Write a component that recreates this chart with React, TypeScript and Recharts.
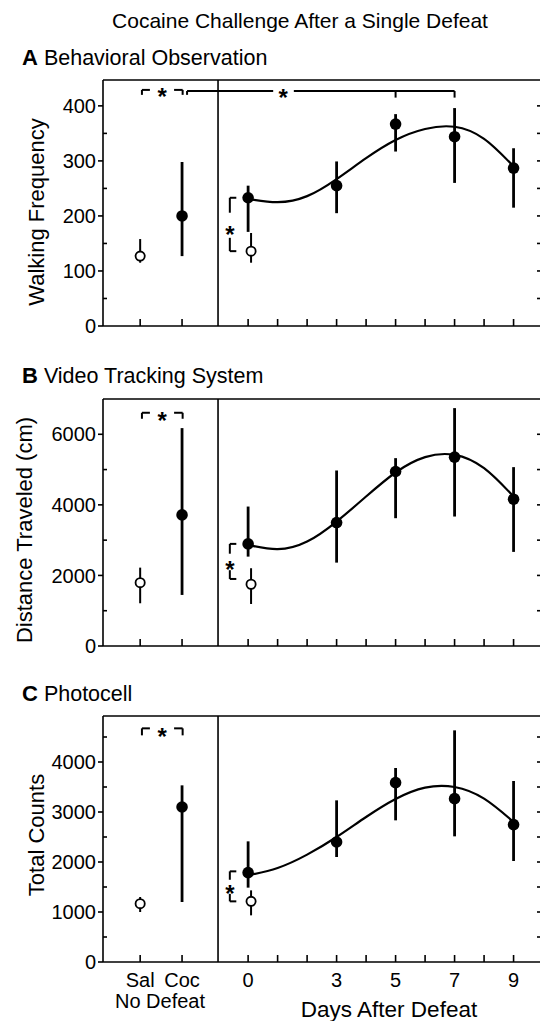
import React from "react";
import {
  ComposedChart,
  Line,
  Scatter,
  XAxis,
  YAxis,
  ErrorBar,
  ReferenceLine,
  ReferenceDot,
} from "recharts";

// x positions: days after defeat; the no-defeat groups sit left of the divider
const groupLabels = ["Sal", "Coc"];
const groupX = [-3.66, -2.24];
const defeatDays = [0, 3, 5, 7, 9];
const fitDays = [0, 1, 2, 3, 4, 5, 6, 7, 8, 9];
const salineDay0X = 0.1;
const dividerX = -1.02;
const xDomain = [-4.92, 9.93];

// A: walking frequency, [mean, low, high]
const walkSal = [127, 115, 158];
const walkCoc = [200, 127, 298];
const walkSalDay0 = [136, 115, 169];
const walkDefeat = [233, 255, 367, 344, 287];
const walkDefeatLow = [171, 205, 317, 260, 215];
const walkDefeatHigh = [255, 299, 385, 396, 323];
const walkFit = [231, 225, 236, 267, 305, 338, 358, 362, 340, 290];

// B: distance traveled (cm)
const distSal = [1796, 1211, 2221];
const distCoc = [3716, 1447, 6175];
const distSalDay0 = [1750, 1191, 2204];
const distDefeat = [2894, 3498, 4945, 5352, 4161];
const distDefeatLow = [2533, 2363, 3622, 3669, 2667];
const distDefeatHigh = [3952, 4974, 5324, 6742, 5069];
const distFit = [2865, 2743, 2960, 3527, 4236, 4917, 5352, 5418, 5040, 4236];

// C: photocell total counts
const countSal = [1167, 1000, 1300];
const countCoc = [3100, 1200, 3533];
const countSalDay0 = [1213, 933, 1433];
const countDefeat = [1787, 2400, 3587, 3267, 2747];
const countDefeatLow = [1487, 2100, 2833, 2513, 2020];
const countDefeatHigh = [2413, 3233, 3880, 4633, 3620];
const countFit = [1733, 1880, 2147, 2500, 2900, 3260, 3487, 3500, 3267, 2800];

const FONT = '"Liberation Sans", Arial, Helvetica, sans-serif';
const AX = { stroke: "#000", strokeWidth: 1.6 };
const CHART_W = 545;
const PLOT_LEFT = 103;
const PLOT_W = CHART_W - 4 - PLOT_LEFT;

const pt = (x: number, [m, lo, hi]: number[]) => ({ x, y: m, err: [m - lo, hi - m] });

const openShape = (p: any) => (
  <circle cx={p.cx} cy={p.cy} r={4.6} fill="#fff" stroke="#000" strokeWidth={1.8} />
);
const filledShape = (p: any) => <circle cx={p.cx} cy={p.cy} r={5.8} fill="#000" />;
const star = (p: any) => (
  <text x={p.cx} y={p.cy + 13} textAnchor="middle" fontSize={24} fontWeight="bold" fontFamily={FONT}>
    *
  </text>
);

type Seg = [number, number, number, number];
type Bracket = { segs: Seg[]; star: [number, number] };

// bracket over the two no-defeat groups with a star in the gap
const groupBracket = (y: number, yEnd: number): Bracket => {
  const x1 = groupX[0] + 0.06;
  const x2 = groupX[1] + 0.02;
  const sx = (x1 + x2) / 2;
  return {
    segs: [
      [x1, yEnd, x1, y],
      [x1, y, sx - 0.42, y],
      [sx + 0.4, y, x2, y],
      [x2, y, x2, yEnd],
    ],
    star: [sx, (y + yEnd) / 2],
  };
};

// bracket between filled and open day-0 points
const day0Bracket = (top: number, bottom: number): Bracket => {
  const xv = -0.62;
  const xh = -0.4;
  const span = top - bottom;
  return {
    segs: [
      [xh, top, xv, top],
      [xv, top, xv, top - span * 0.28],
      [xv, bottom + span * 0.25, xv, bottom],
      [xv, bottom, xh, bottom],
    ],
    star: [xv, top - span * 0.6],
  };
};

// long bracket in panel A: Coc vs days 5 and 7
const longBracket: Bracket = {
  segs: [
    [groupX[1] + 0.17, 420, groupX[1] + 0.17, 427],
    [groupX[1] + 0.17, 427, 0.85, 427],
    [1.55, 427, defeatDays[3], 427],
    [defeatDays[2], 427, defeatDays[2], 415],
    [defeatDays[3], 427, defeatDays[3], 415],
  ],
  star: [1.19, 423],
};

const xTicks = [...groupX, ...fitDays];

// inward tick on the x axis, label only where the reference has one
const XTick = ({ x, y, payload, showLabels }: any) => {
  const v = payload.value;
  const gi = groupX.indexOf(v);
  const label = gi >= 0 ? groupLabels[gi] : defeatDays.includes(v) ? String(v) : null;
  return (
    <g>
      <line x1={x} x2={x} y1={y} y2={y - 7} stroke="#000" strokeWidth={1.6} />
      {showLabels && label && (
        <text x={x} y={y + 25} textAnchor="middle" fontSize={20} fontFamily={FONT} fill="#000">
          {label}
        </text>
      )}
    </g>
  );
};

// left major ticks out + label, left minor ticks in, right ticks in
const YTick = ({ x, y, payload, major, minor, right }: any) => {
  const v = payload.value;
  const rx = x + PLOT_W;
  return (
    <g>
      {major.includes(v) && (
        <>
          <line x1={x - 5} x2={x} y1={y} y2={y} stroke="#000" strokeWidth={1.6} />
          <text x={x - 7} y={y} dy="0.36em" textAnchor="end" fontSize={20} fontFamily={FONT} fill="#000">
            {v}
          </text>
        </>
      )}
      {minor.includes(v) && <line x1={x} x2={x + 4} y1={y} y2={y} stroke="#000" strokeWidth={1.6} />}
      {right.includes(v) && <line x1={rx - 4} x2={rx} y1={y} y2={y} stroke="#000" strokeWidth={1.6} />}
    </g>
  );
};

interface PanelProps {
  top: number;
  height: number;
  yMax: number;
  major: number[];
  minor: number[];
  right: number[];
  sal: number[];
  coc: number[];
  salDay0: number[];
  defeat: number[];
  low: number[];
  high: number[];
  fit: number[];
  brackets: Bracket[];
  showLabels?: boolean;
}

const Panel = (p: PanelProps) => {
  const openData = [pt(groupX[0], p.sal), pt(salineDay0X, p.salDay0)];
  const filledData = [
    pt(groupX[1], p.coc),
    ...defeatDays.map((d, i) => pt(d, [p.defeat[i], p.low[i], p.high[i]])),
  ];
  const fitData = fitDays.map((d, i) => ({ x: d, y: p.fit[i] }));
  const yTicks = Array.from(new Set([...p.major, ...p.minor, ...p.right])).sort((a, b) => a - b);
  return (
    <div style={{ position: "absolute", left: 0, top: p.top }}>
      <ComposedChart width={CHART_W} height={p.height} margin={{ top: 10, right: 4, bottom: 0, left: 0 }}>
        <XAxis
          type="number"
          dataKey="x"
          domain={xDomain}
          allowDataOverflow
          ticks={xTicks}
          interval={0}
          height={p.showLabels ? 30 : 10}
          tickSize={0}
          tickMargin={0}
          tickLine={false}
          axisLine={AX}
          tick={(tp: any) => <XTick {...tp} showLabels={p.showLabels} />}
        />
        <YAxis
          type="number"
          dataKey="y"
          domain={[0, p.yMax]}
          allowDataOverflow
          ticks={yTicks}
          interval={0}
          width={PLOT_LEFT}
          tickSize={0}
          tickMargin={0}
          tickLine={false}
          axisLine={AX}
          tick={(tp: any) => <YTick {...tp} major={p.major} minor={p.minor} right={p.right} />}
        />
        <ReferenceLine y={p.yMax} stroke="#000" strokeWidth={1.6} ifOverflow="visible" />
        <ReferenceLine x={dividerX} stroke="#000" strokeWidth={1.6} />
        {p.brackets.flatMap((b, bi) =>
          b.segs.map((s, si) => (
            <ReferenceLine
              key={`b${bi}-${si}`}
              segment={[
                { x: s[0], y: s[1] },
                { x: s[2], y: s[3] },
              ]}
              stroke="#000"
              strokeWidth={2}
              ifOverflow="visible"
            />
          ))
        )}
        {p.brackets.map((b, bi) => (
          <ReferenceDot key={`s${bi}`} x={b.star[0]} y={b.star[1]} r={0} shape={star} ifOverflow="visible" />
        ))}
        <Line
          data={fitData}
          dataKey="y"
          type="natural"
          dot={false}
          stroke="#000"
          strokeWidth={2.2}
          isAnimationActive={false}
        />
        <Scatter data={filledData} dataKey="y" shape={filledShape} isAnimationActive={false}>
          <ErrorBar dataKey="err" direction="y" width={0} stroke="#000" strokeWidth={2.8} />
        </Scatter>
        <Scatter data={openData} dataKey="y" shape={openShape} isAnimationActive={false}>
          <ErrorBar dataKey="err" direction="y" width={0} stroke="#000" strokeWidth={2} />
        </Scatter>
      </ComposedChart>
    </div>
  );
};

const txt = (extra: React.CSSProperties): React.CSSProperties => ({
  position: "absolute",
  whiteSpace: "nowrap",
  fontFamily: FONT,
  color: "#000",
  lineHeight: 1,
  ...extra,
});

const PanelTitle = ({ letter, title, y }: { letter: string; title: string; y: number }) => (
  <div style={txt({ left: 22, top: y, fontSize: 21.5, transform: "translateY(-50%)" })}>
    <b style={{ fontSize: 22 }}>{letter}</b> {title}
  </div>
);

const YLabel = ({ text, x, y }: { text: string; x: number; y: number }) => (
  <div
    style={txt({
      left: x,
      top: y,
      fontSize: 22,
      transform: "translate(-50%, -50%) rotate(-90deg)",
    })}
  >
    {text}
  </div>
);

export default function App() {
  return (
    <div
      style={{
        position: "absolute",
        left: 0,
        top: 0,
        width: 540,
        height: 1021,
        overflow: "hidden",
        background: "#fff",
      }}
    >
      <div style={txt({ left: 300, top: 20, fontSize: 21, transform: "translate(-50%, -50%)" })}>
        Cocaine Challenge After a Single Defeat
      </div>

      <PanelTitle letter="A" title="Behavioral Observation" y={58} />
      <Panel
        top={70}
        height={266}
        yMax={447}
        major={[0, 100, 200, 300, 400]}
        minor={[50, 150, 250, 350]}
        right={[50, 100, 150, 200, 250, 300, 350, 400]}
        sal={walkSal}
        coc={walkCoc}
        salDay0={walkSalDay0}
        defeat={walkDefeat}
        low={walkDefeatLow}
        high={walkDefeatHigh}
        fit={walkFit}
        brackets={[groupBracket(429, 420), longBracket, day0Bracket(233, 136)]}
      />
      <YLabel text="Walking Frequency" x={37} y={212} />

      <PanelTitle letter="B" title="Video Tracking System" y={376} />
      <Panel
        top={389}
        height={267}
        yMax={7000}
        major={[0, 2000, 4000, 6000]}
        minor={[1000, 3000, 5000]}
        right={[1000, 2000, 3000, 4000, 5000, 6000]}
        sal={distSal}
        coc={distCoc}
        salDay0={distSalDay0}
        defeat={distDefeat}
        low={distDefeatLow}
        high={distDefeatHigh}
        fit={distFit}
        brackets={[groupBracket(6610, 6440), day0Bracket(2894, 1900)]}
      />
      <YLabel text="Distance Traveled (cm)" x={25} y={530} />

      <PanelTitle letter="C" title="Photocell" y={694} />
      <Panel
        top={706}
        height={286}
        yMax={4920}
        major={[0, 1000, 2000, 3000, 4000]}
        minor={[500, 1500, 2500, 3500, 4500]}
        right={[500, 1000, 1500, 2000, 2500, 3000, 3500, 4000, 4500]}
        sal={countSal}
        coc={countCoc}
        salDay0={countSalDay0}
        defeat={countDefeat}
        low={countDefeatLow}
        high={countDefeatHigh}
        fit={countFit}
        brackets={[groupBracket(4673, 4533), day0Bracket(1813, 1213)]}
        showLabels
      />
      <YLabel text="Total Counts" x={37} y={835} />

      <div style={txt({ left: 160, top: 1001, fontSize: 20, transform: "translate(-50%, -50%)" })}>
        No Defeat
      </div>
      <div style={txt({ left: 389, top: 1010, fontSize: 22.5, transform: "translate(-50%, -50%)" })}>
        Days After Defeat
      </div>
    </div>
  );
}
